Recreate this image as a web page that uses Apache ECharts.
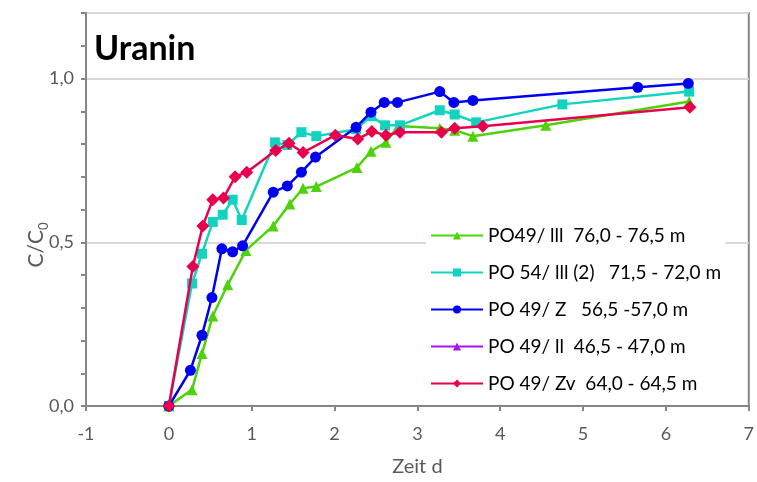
<!DOCTYPE html>
<html>
<head>
<meta charset="utf-8">
<script src="https://cdn.jsdelivr.net/npm/echarts@6/dist/echarts.min.js"></script>
<style>
  html, body { margin: 0; padding: 0; background: #ffffff; }
  #chart { width: 757px; height: 482px; }
</style>
</head>
<body>
<div id="chart"></div>
<script>
// Uranin breakthrough curves: relative concentration C/C0 over time (days)
const seriesNames = [
  'PO49/ lll  76,0 - 76,5 m',
  'PO 54/ lll (2)   71,5 - 72,0 m',
  'PO 49/ Z   56,5 -57,0 m',
  'PO 49/ ll  46,5 - 47,0 m',
  'PO 49/ Zv  64,0 - 64,5 m'
];

const timeP49III = [0, 0.28, 0.40, 0.53, 0.71, 0.93, 1.26, 1.46, 1.62, 1.78, 2.27, 2.44, 2.62, 2.77, 3.27, 3.45, 3.67, 4.55, 6.28];
const concP49III = [0, 0.050, 0.160, 0.275, 0.370, 0.475, 0.550, 0.617, 0.665, 0.670, 0.728, 0.778, 0.805, 0.855, 0.848, 0.842, 0.824, 0.857, 0.930];

const timeP54III = [0, 0.28, 0.40, 0.53, 0.65, 0.77, 0.88, 1.28, 1.43, 1.60, 1.78, 2.26, 2.44, 2.61, 2.79, 3.27, 3.45, 3.71, 4.75, 6.28];
const concP54III = [0, 0.374, 0.465, 0.562, 0.584, 0.630, 0.568, 0.805, 0.797, 0.836, 0.824, 0.845, 0.885, 0.857, 0.857, 0.903, 0.890, 0.866, 0.921, 0.960];

const timeP49Z = [0, 0.26, 0.40, 0.52, 0.64, 0.77, 0.89, 1.26, 1.43, 1.60, 1.77, 2.26, 2.44, 2.60, 2.76, 3.27, 3.44, 3.67, 5.66, 6.27];
const concP49Z = [0, 0.109, 0.216, 0.331, 0.480, 0.471, 0.489, 0.653, 0.672, 0.714, 0.760, 0.851, 0.897, 0.927, 0.927, 0.960, 0.927, 0.933, 0.973, 0.985];

const timeP49II = [];
const concP49II = [];

const timeP49Zv = [0, 0.29, 0.41, 0.53, 0.66, 0.80, 0.94, 1.29, 1.45, 1.62, 2.01, 2.28, 2.45, 2.62, 2.79, 3.29, 3.45, 3.79, 6.29];
const concP49Zv = [0, 0.426, 0.550, 0.630, 0.635, 0.700, 0.714, 0.780, 0.802, 0.774, 0.827, 0.815, 0.838, 0.827, 0.836, 0.836, 0.848, 0.854, 0.912];

const xTicks = [-1, 0, 1, 2, 3, 4, 5, 6, 7];
const yTickLabels = ['0,0', '0,5', '1,0'];

function pairs(xs, ys) {
  return xs.map((x, i) => [x, ys[i]]);
}

const FONT = 'Lato, "Open Sans", sans-serif';
const AXIS_GREY = '#868686';
const TEXT_GREY = '#595959';

const styles = [
  { color: '#4fd10c', symbol: 'triangle', size: 11 },
  { color: '#12d3bf', symbol: 'rect', size: 10 },
  { color: '#0000f0', symbol: 'circle', size: 11 },
  { color: '#a912ee', symbol: 'triangle', size: 11 },
  { color: '#e8004f', symbol: 'diamond', size: 13 }
];
const dataSets = [
  pairs(timeP49III, concP49III),
  pairs(timeP54III, concP54III),
  pairs(timeP49Z, concP49Z),
  pairs(timeP49II, concP49II),
  pairs(timeP49Zv, concP49Zv)
];

const chart = echarts.init(document.getElementById('chart'), null, { renderer: 'canvas' });

chart.setOption({
  animation: false,
  backgroundColor: '#ffffff',
  title: {
    text: 'Uranin',
    left: 89,
    top: 27,
    textStyle: { fontFamily: FONT, fontWeight: 'bold', fontSize: 34, color: '#000000' }
  },
  // y-axis title with subscript, placed beside the 0,5 tick
  graphic: [{
    type: 'text',
    x: 38,
    y: 245,
    rotation: Math.PI / 2,
    style: {
      text: '{a|C/C}{b|0}',
      align: 'center',
      verticalAlign: 'middle',
      rich: {
        a: { fontFamily: FONT, fontSize: 21, fill: TEXT_GREY, lineHeight: 24, verticalAlign: 'top' },
        b: { fontFamily: FONT, fontSize: 13, fill: TEXT_GREY, lineHeight: 14, padding: [12, 0, 0, 0], verticalAlign: 'bottom' }
      }
    }
  }],
  grid: {
    left: 86, right: 5, top: 13, bottom: 74,
    show: true, borderColor: AXIS_GREY, borderWidth: 2, backgroundColor: 'transparent'
  },
  legend: {
    orient: 'vertical',
    left: 426,
    top: 224,
    padding: [2, 4, 2, 4],
    itemGap: 18,
    itemWidth: 52,
    itemHeight: 10,
    backgroundColor: '#ffffff',
    data: seriesNames,
    textStyle: { fontFamily: FONT, fontSize: 19, color: '#000000', padding: [0, 0, 0, 0] }
  },
  xAxis: {
    type: 'value',
    min: xTicks[0],
    max: xTicks[xTicks.length - 1],
    interval: 1,
    name: 'Zeit d',
    nameLocation: 'middle',
    nameGap: 51,
    nameTextStyle: { fontFamily: FONT, fontSize: 20, color: TEXT_GREY },
    axisLine: { show: true, onZero: false, lineStyle: { color: AXIS_GREY, width: 2 } },
    axisTick: { show: true, inside: false, length: 5, lineStyle: { color: AXIS_GREY, width: 2 } },
    axisLabel: { fontFamily: FONT, fontSize: 18, color: TEXT_GREY, margin: 19 },
    splitLine: { show: false }
  },
  yAxis: [
    {
      type: 'value',
      min: 0,
      max: 1.2,
      interval: 0.1,
      axisLine: { show: true, onZero: false, lineStyle: { color: AXIS_GREY, width: 2 } },
      axisTick: { show: true, inside: false, length: 5, lineStyle: { color: AXIS_GREY, width: 2 } },
      axisLabel: {
        fontFamily: FONT, fontSize: 18, color: TEXT_GREY, margin: 12,
        formatter: function (v) {
          const k = Math.round(v * 2);
          if (Math.abs(v * 2 - k) < 1e-6 && k < yTickLabels.length) return yTickLabels[k];
          return '';
        }
      },
      splitLine: { show: false }
    },
    {
      type: 'value',
      min: 0,
      max: 1.2,
      interval: 0.5,
      position: 'left',
      axisLine: { show: false },
      axisTick: { show: false },
      axisLabel: { show: false },
      splitLine: { show: true, lineStyle: { color: '#d9d9d9', width: 2 } }
    }
  ],
  series: seriesNames.map((name, i) => ({
    name: name,
    type: 'line',
    yAxisIndex: 0,
    data: dataSets[i],
    symbol: styles[i].symbol,
    symbolSize: styles[i].size,
    showAllSymbol: true,
    lineStyle: { color: styles[i].color, width: 2.5 },
    itemStyle: { color: styles[i].color },
    z: 2 + i
  }))
});
</script>
</body>
</html>
